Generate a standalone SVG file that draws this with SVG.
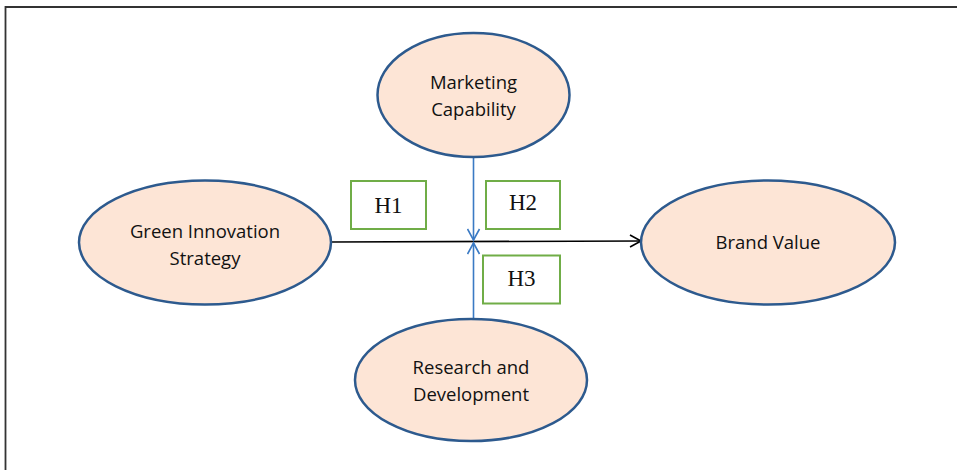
<svg xmlns="http://www.w3.org/2000/svg" width="957" height="470" viewBox="0 0 957 470">
<defs>
<style>
.node{fill:#fde5d6;stroke:#2d5a8e;stroke-width:2.5}
.lbl{font-family:"Open Sans","Liberation Sans",sans-serif;font-size:18.5px;fill:#111;text-anchor:middle}
.hbox{fill:#fff;stroke:#70ad47;stroke-width:2}
.h{font-family:"Liberation Serif",serif;font-size:23px;fill:#111;text-anchor:middle}
</style>
<marker id="ab" markerWidth="14" markerHeight="14" refX="12" refY="7" orient="auto" markerUnits="userSpaceOnUse">
<path d="M1,1 L12,7 L1,13" fill="none" stroke="#000" stroke-width="1.6"/>
</marker>
<marker id="au" markerWidth="14" markerHeight="14" refX="12" refY="7" orient="auto" markerUnits="userSpaceOnUse">
<path d="M1,1 L12,7 L1,13" fill="none" stroke="#3a7ac4" stroke-width="1.6"/>
</marker>
</defs>
<rect width="957" height="470" fill="#fff"/>
<path d="M5.5,470 V7 H957" fill="none" stroke="#333" stroke-width="1.8"/>
<g id="connectors">
<line x1="331" y1="242" x2="641" y2="241" stroke="#000" stroke-width="1.6" marker-end="url(#ab)"/>
<line x1="473.5" y1="157" x2="473.5" y2="240" stroke="#3a7ac4" stroke-width="1.6" marker-end="url(#au)"/>
<line x1="473.5" y1="318" x2="473.5" y2="243" stroke="#3a7ac4" stroke-width="1.6" marker-end="url(#au)"/>
</g>
<g id="marketing">
<ellipse class="node" cx="473.5" cy="95" rx="96" ry="62"/>
<text class="lbl" x="473.5" y="89">Marketing</text>
<text class="lbl" x="473.5" y="116">Capability</text>
</g>
<g id="green">
<ellipse class="node" cx="205" cy="242.5" rx="126" ry="62"/>
<text class="lbl" x="205" y="238">Green Innovation</text>
<text class="lbl" x="205" y="265">Strategy</text>
</g>
<g id="brand">
<ellipse class="node" cx="768" cy="242.5" rx="127" ry="62"/>
<text class="lbl" x="768" y="249">Brand Value</text>
</g>
<g id="research">
<ellipse class="node" cx="471" cy="380" rx="116" ry="61"/>
<text class="lbl" x="471" y="374">Research and</text>
<text class="lbl" x="471" y="401">Development</text>
</g>
<g id="h1">
<rect class="hbox" x="351" y="181" width="75" height="48"/>
<text class="h" x="388.5" y="213">H1</text>
</g>
<g id="h2">
<rect class="hbox" x="486" y="181" width="74" height="48"/>
<text class="h" x="523" y="210">H2</text>
</g>
<g id="h3">
<rect class="hbox" x="483" y="255.5" width="77" height="48"/>
<text class="h" x="521.5" y="286">H3</text>
</g>
</svg>
